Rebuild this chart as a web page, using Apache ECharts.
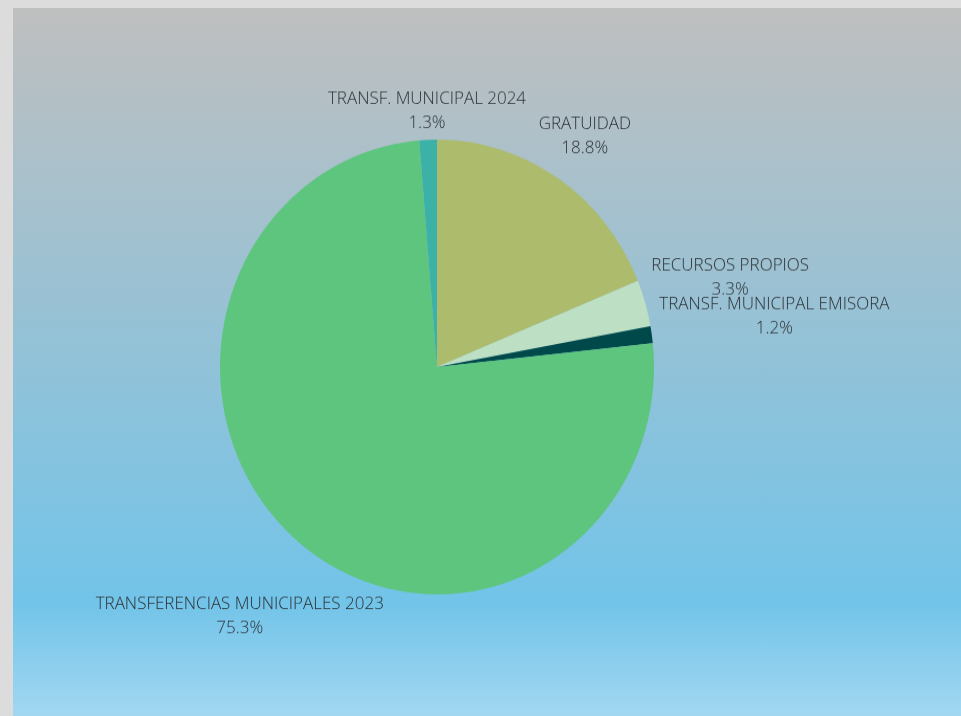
<!DOCTYPE html>
<html>
<head>
<meta charset="utf-8">
<script src="https://cdn.jsdelivr.net/npm/echarts@6/dist/echarts.min.js"></script>
<style>
  html, body { margin: 0; padding: 0; background: #dcdcdc; width: 961px; height: 716px; overflow: hidden; }
  #wrap { position: absolute; left: 13px; top: 8px; width: 948px; height: 708px; overflow: hidden;
    background: linear-gradient(to bottom, #bfbfbf 0%, #72c4e9 84%, #a2d7f1 100%); }
  #chart { position: absolute; left: 0; top: 0; width: 948px; height: 708px;
    transform-origin: 424px 359px; transform: scaleY(1.048); }
</style>
</head>
<body>
<div id="wrap"><div id="chart"></div></div>
<script>
const categories = ['GRATUIDAD', 'RECURSOS PROPIOS', 'TRANSF. MUNICIPAL EMISORA', 'TRANSFERENCIAS MUNICIPALES 2023', 'TRANSF. MUNICIPAL 2024'];
const shares = [18.8, 3.3, 1.2, 75.3, 1.3];
const colors = ['#acbb6c', '#bde0c5', '#00494a', '#5ec57f', '#3cb1a8'];

const CX = 424, CY = 359, R = 217, GAP = 7, BOX_TRIM = 5;
const total = shares.reduce((a, b) => a + b, 0);

function midAngle(i) {
  let before = 0;
  for (let k = 0; k < i; k++) before += shares[k];
  const mid = before + shares[i] / 2;
  return (90 - mid / total * 360) * Math.PI / 180;
}

function placeLabel(a, w, h) {
  const ux = Math.cos(a), uy = -Math.sin(a);
  let lo = R, hi = R + 400;
  for (let it = 0; it < 40; it++) {
    const d = (lo + hi) / 2;
    const cx = CX + ux * d, cy = CY + uy * d;
    const nx = Math.max(cx - w / 2, Math.min(CX, cx + w / 2));
    const ny = Math.max(cy - h / 2, Math.min(CY, cy + h / 2));
    const dist = Math.hypot(nx - CX, ny - CY);
    if (dist < R + GAP) lo = d; else hi = d;
  }
  return { x: CX + ux * hi, y: CY + uy * hi };
}

const chart = echarts.init(document.getElementById('chart'));
chart.setOption({
  backgroundColor: 'transparent',
  animation: false,
  series: [{
    type: 'pie',
    center: [CX, CY],
    radius: [0, R],
    startAngle: 90,
    clockwise: true,
    avoidLabelOverlap: false,
    data: categories.map((c, i) => ({ name: c, value: shares[i], itemStyle: { color: colors[i] } })),
    itemStyle: { borderWidth: 0 },
    label: {
      show: true,
      position: 'outside',
      formatter: p => p.name + '\n' + shares[p.dataIndex].toFixed(1) + '%',
      fontFamily: 'Open Sans',
      fontWeight: 300,
      fontSize: 17,
      lineHeight: 23,
      color: '#2a2e33'
    },
    labelLine: { show: false },
    emphasis: { disabled: true },
    labelLayout: function (p) {
      const a = midAngle(p.dataIndex);
      const pos = placeLabel(a, p.labelRect.width, p.labelRect.height - BOX_TRIM);
      return { x: pos.x, y: pos.y, align: 'center', verticalAlign: 'middle', hideOverlap: false, moveOverlap: false };
    }
  }]
});
</script>
</body>
</html>
